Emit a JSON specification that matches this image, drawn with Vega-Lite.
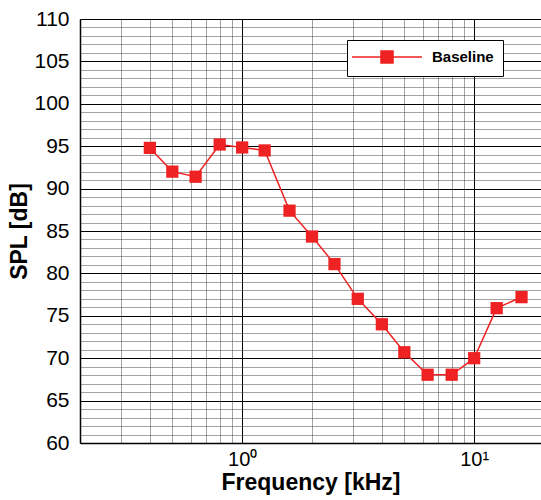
{
  "$schema": "https://vega.github.io/schema/vega-lite/v6.json",
  "autosize": {"type": "none"},
  "padding": {"left": 80, "top": 19, "right": 0, "bottom": 57},
  "width": 461,
  "height": 424,
  "background": "white",
  "config": {
    "view": {"stroke": null},
    "font": "Liberation Sans"
  },
  "data": {
    "values": [
      {"freq": 0.4, "spl": 94.8, "series": "Baseline"},
      {"freq": 0.5, "spl": 92.0, "series": "Baseline"},
      {"freq": 0.63, "spl": 91.4, "series": "Baseline"},
      {"freq": 0.8, "spl": 95.2, "series": "Baseline"},
      {"freq": 1.0, "spl": 94.85, "series": "Baseline"},
      {"freq": 1.25, "spl": 94.5, "series": "Baseline"},
      {"freq": 1.6, "spl": 87.4, "series": "Baseline"},
      {"freq": 2.0, "spl": 84.35, "series": "Baseline"},
      {"freq": 2.5, "spl": 81.1, "series": "Baseline"},
      {"freq": 3.15, "spl": 77.0, "series": "Baseline"},
      {"freq": 4.0, "spl": 74.0, "series": "Baseline"},
      {"freq": 5.0, "spl": 70.7, "series": "Baseline"},
      {"freq": 6.3, "spl": 68.05, "series": "Baseline"},
      {"freq": 8.0, "spl": 68.05, "series": "Baseline"},
      {"freq": 10.0, "spl": 70.0, "series": "Baseline"},
      {"freq": 12.5, "spl": 75.9, "series": "Baseline"},
      {"freq": 16.0, "spl": 77.2, "series": "Baseline"}
    ]
  },
  "mark": {
    "type": "line",
    "strokeWidth": 1.5,
    "point": {"shape": "square", "filled": true, "size": 150, "color": "#ee2222", "opacity": 1}
  },
  "encoding": {
    "x": {
      "field": "freq",
      "type": "quantitative",
      "scale": {"type": "log", "domain": [0.2, 19.41], "nice": false},
      "axis": {
        "title": "Frequency [kHz]",
        "titleFontSize": 23,
        "titleFontWeight": "bold",
        "titleColor": "black",
        "titlePadding": 2,
        "values": [0.2, 0.3, 0.4, 0.5, 0.6, 0.7, 0.8, 0.9, 1, 2, 3, 4, 5, 6, 7, 8, 9, 10],
        "labelExpr": "datum.value == 1 ? '10⁰' : (datum.value == 10 ? '10¹' : '')",
        "labelFontSize": 20,
        "labelColor": "black",
        "labelPadding": 6,
        "labelOverlap": false,
        "labelFlush": false,
        "ticks": false,
        "domainColor": "black",
        "domainWidth": 1.5,
        "grid": true,
        "gridColor": {"condition": {"test": "datum.value == 1 || datum.value == 10", "value": "black"}, "value": "#444444"},
        "gridDash": {"condition": {"test": "datum.value == 1 || datum.value == 10", "value": []}, "value": [1, 1]},
        "gridWidth": 1,
        "gridOpacity": 1
      }
    },
    "y": {
      "field": "spl",
      "type": "quantitative",
      "scale": {"domain": [60, 110], "nice": false, "zero": false},
      "axis": {
        "title": "SPL [dB]",
        "titleFontSize": 23,
        "titleFontWeight": "bold",
        "titleColor": "black",
        "titlePadding": 2,
        "values": [60,61,62,63,64,65,66,67,68,69,70,71,72,73,74,75,76,77,78,79,80,81,82,83,84,85,86,87,88,89,90,91,92,93,94,95,96,97,98,99,100,101,102,103,104,105,106,107,108,109,110],
        "labelExpr": "datum.value % 5 === 0 ? datum.label : ''",
        "labelFontSize": 21,
        "labelColor": "black",
        "labelPadding": 11,
        "labelOverlap": false,
        "labelFlush": false,
        "ticks": false,
        "domainColor": "black",
        "domainWidth": 1.5,
        "grid": true,
        "gridColor": {"condition": {"test": "datum.value % 5 === 0", "value": "black"}, "value": "#444444"},
        "gridDash": {"condition": {"test": "datum.value % 5 === 0", "value": []}, "value": [1, 1]},
        "gridWidth": 1,
        "gridOpacity": 1
      }
    },
    "color": {
      "field": "series",
      "type": "nominal",
      "scale": {"range": ["#ee2222"]},
      "legend": {
        "title": null,
        "orient": "none",
        "legendX": 267,
        "legendY": 21,
        "strokeColor": "black",
        "fillColor": "white",
        "padding": 9,
        "cornerRadius": 0,
        "labelFont": "Liberation Sans",
        "labelFontSize": 15,
        "labelFontWeight": "bold",
        "labelColor": "black",
        "labelOffset": 37,
        "symbolOffset": 23,
        "symbolType": "M-5,0L5,0M-0.86,-0.86L0.86,-0.86L0.86,0.86L-0.86,0.86Z",
        "symbolSize": 196,
        "symbolStrokeWidth": 1.5,
        "symbolFillColor": "#ee2222",
        "symbolStrokeColor": "#ee2222"
      }
    }
  }
}
